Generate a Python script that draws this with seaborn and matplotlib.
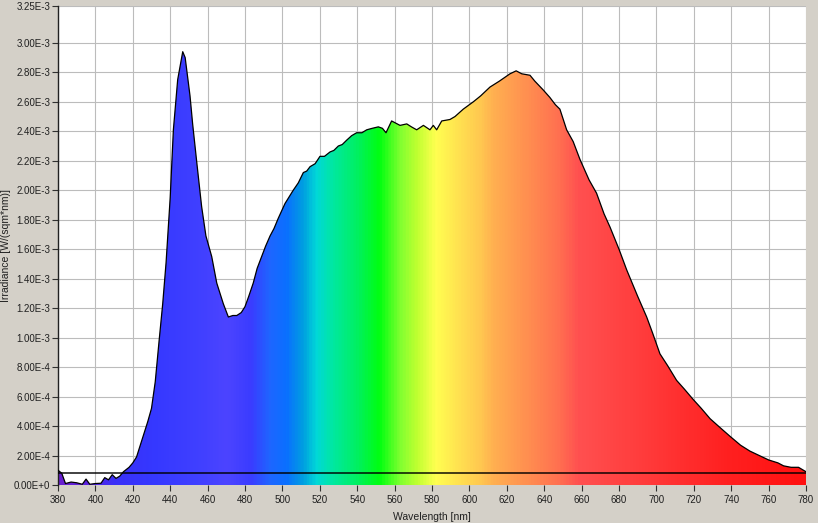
import numpy as np
import pandas as pd
import matplotlib
matplotlib.use("Agg")
import matplotlib.pyplot as plt
import seaborn as sns
from matplotlib.colors import LinearSegmentedColormap
from matplotlib.patches import Polygon

# ---------------- data ----------------
wavelength = [380, 382, 384, 387, 390, 393, 395, 397, 400, 403, 405, 407, 409, 411, 413,
              415, 418, 420, 422, 425, 428, 430, 432, 434, 436, 437.8, 440, 441.7, 444,
              446.7, 448, 450.6, 452, 454.2, 456.8, 459.1, 462.2, 464.9, 468.4, 471.1,
              473.5, 475.6, 478, 480, 482, 484.4, 486.5, 488.9, 491, 493.4, 495.5, 497.8,
              501.4, 505.8, 508.5, 511.2, 513, 514.8, 517.5, 520.1, 522.5, 525.5, 527.5,
              529.9, 532, 534.4, 537, 539.7, 542.5, 545.1, 548, 551.3, 553.5, 555.4, 558.4,
              562.9, 566.5, 569, 571.8, 575.4, 578.9, 580.7, 582.5, 585.2, 589.6, 592.3,
              596.7, 602.1, 606, 611, 616, 621.7, 625, 628, 632.4, 635, 639.5, 643, 646,
              648.4, 652, 655.5, 659.1, 664, 668, 672, 675.2, 680, 684.1, 690, 694.8, 698,
              701.9, 706, 710.8, 715, 719.7, 724, 728.7, 734, 739.4, 745, 750, 755, 760,
              765, 768, 772, 776, 780]
irradiance_e3 = [0.10, 0.08, 0.01, 0.02, 0.015, 0.005, 0.04, 0.005, 0.01, 0.012, 0.05, 0.035,
                 0.07, 0.045, 0.06, 0.09, 0.12, 0.15, 0.19, 0.31, 0.43, 0.52, 0.70, 0.97,
                 1.23, 1.51, 1.95, 2.41, 2.75, 2.94, 2.90, 2.64, 2.45, 2.19, 1.89, 1.69, 1.55,
                 1.37, 1.23, 1.14, 1.15, 1.15, 1.17, 1.21, 1.28, 1.37, 1.47, 1.55, 1.62, 1.69,
                 1.74, 1.81, 1.91, 2.00, 2.05, 2.12, 2.13, 2.16, 2.18, 2.23, 2.23, 2.26, 2.27,
                 2.30, 2.31, 2.34, 2.37, 2.39, 2.39, 2.41, 2.42, 2.43, 2.42, 2.39, 2.47, 2.44,
                 2.45, 2.43, 2.41, 2.44, 2.41, 2.44, 2.41, 2.47, 2.48, 2.50, 2.55, 2.60, 2.64,
                 2.70, 2.74, 2.79, 2.81, 2.79, 2.78, 2.74, 2.68, 2.63, 2.58, 2.55, 2.41, 2.33,
                 2.21, 2.07, 1.98, 1.84, 1.75, 1.60, 1.46, 1.28, 1.14, 1.03, 0.89, 0.81, 0.71,
                 0.65, 0.58, 0.52, 0.45, 0.39, 0.33, 0.27, 0.23, 0.20, 0.17, 0.15, 0.13, 0.12,
                 0.12, 0.09]
baseline_e3 = 0.079

x_ticks = list(range(380, 781, 20))
y_ticks = [0.0, 0.2e-3, 0.4e-3, 0.6e-3, 0.8e-3, 1.0e-3, 1.2e-3, 1.4e-3, 1.6e-3, 1.8e-3,
           2.0e-3, 2.2e-3, 2.4e-3, 2.6e-3, 2.8e-3, 3.0e-3, 3.25e-3]
y_tick_labels = ["0.00E+0", "2.00E-4", "4.00E-4", "6.00E-4", "8.00E-4", "1.00E-3",
                 "1.20E-3", "1.40E-3", "1.60E-3", "1.80E-3", "2.00E-3", "2.20E-3",
                 "2.40E-3", "2.60E-3", "2.80E-3", "3.00E-3", "3.25E-3"]

spectrum_wl = [380, 395, 410, 430, 455, 470, 483, 493, 502, 511, 518, 527, 540, 552, 563,
               572, 582, 595, 606, 613, 625, 648, 659, 686, 712, 739, 780]
spectrum_col = ["#6a1fd0", "#5a22e0", "#3a30f8", "#3538ff", "#4040ff", "#4c44ff", "#3a3cff",
                "#1e66ff", "#0a70ff", "#00a0e0", "#00d8d8", "#00e8a0", "#00f060", "#00ff10",
                "#80ff30", "#c0ff30", "#ffff50", "#ffe050", "#ffc850", "#ffb050", "#ff9a50",
                "#ff7050", "#ff5050", "#ff4040", "#ff3030", "#ff2020", "#ff1010"]

# ---------------- plotting ----------------
df = pd.DataFrame({"wl": wavelength, "irr": np.array(irradiance_e3) * 1e-3})

sns.set_style("white")
plt.rcParams["font.family"] = ["Liberation Sans", "DejaVu Sans"]

BG = "#d4d0c8"
fig = plt.figure(figsize=(8.18, 5.23), dpi=100, facecolor=BG)
ax = fig.add_axes([58 / 818, 38 / 523, 748 / 818, 479 / 523])
ax.set_facecolor("white")

xmin, xmax = 380, 780
ymin, ymax = 0, 3.25e-3

# gradient fill under the curve
pos = [(w - xmin) / (xmax - xmin) for w in spectrum_wl]
cmap = LinearSegmentedColormap.from_list("spec", list(zip(pos, spectrum_col)))
grad = np.linspace(0, 1, 1200).reshape(1, -1)
im = ax.imshow(grad, cmap=cmap, aspect="auto", extent=[xmin, xmax, ymin, ymax],
               origin="lower", zorder=2, interpolation="bilinear")
verts = [(xmin, 0)] + list(zip(df["wl"], df["irr"])) + [(xmax, 0)]
clip = Polygon(verts, closed=True, transform=ax.transData, facecolor="none", edgecolor="none")
ax.add_patch(clip)
im.set_clip_path(clip)

# outline
sns.lineplot(data=df, x="wl", y="irr", ax=ax, color="black", lw=0.9, zorder=4)

# baseline
ax.axhline(baseline_e3 * 1e-3, color="black", lw=1.3, alpha=0.8, zorder=5)

ax.set_xlim(xmin, xmax)
ax.set_ylim(ymin, ymax)
ax.set_xticks(x_ticks)
ax.set_xticklabels([str(t) for t in x_ticks])
ax.set_yticks(y_ticks)
ax.set_yticklabels(y_tick_labels)
ax.grid(True, color="#bcbcbc", lw=0.8, zorder=1)
ax.set_axisbelow(True)

for s in ["top", "right", "bottom"]:
    ax.spines[s].set_visible(False)
ax.spines["left"].set_color("#202020")
ax.spines["left"].set_linewidth(1.0)

ax.tick_params(axis="both", direction="out", length=4, width=0.8, color="#303030",
               labelsize=7, labelcolor="#202020", left=True, bottom=True)
ax.tick_params(axis="x", pad=3)
ax.tick_params(axis="y", pad=1.5)

ax.set_xlabel("Wavelength [nm]", fontsize=7.5, color="#202020", labelpad=5)
ax.set_ylabel("Irradiance [W/(sqm*nm)]", fontsize=7.5, color="#202020", labelpad=2)

fig.savefig("out.png", dpi=100, facecolor=BG)
